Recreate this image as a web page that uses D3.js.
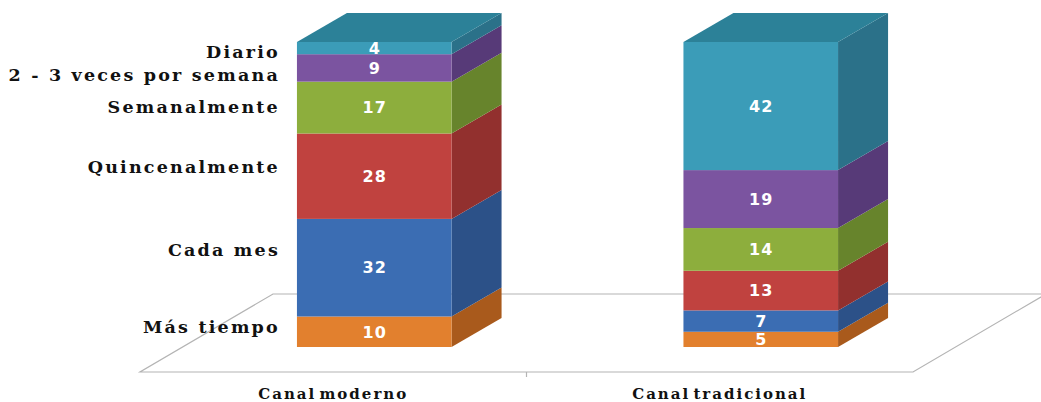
<!DOCTYPE html>
<html><head><meta charset="utf-8">
<script src="https://cdn.jsdelivr.net/npm/d3@7"></script>
<style>
html,body{margin:0;padding:0;background:#fff;}
svg{display:block;}
</style></head>
<body>
<svg id="chart" width="1041" height="402"></svg>
<script>
// ---- data ----
const categories = ["Canal moderno", "Canal tradicional"];
const seriesNames = ["Más tiempo", "Cada mes", "Quincenalmente", "Semanalmente", "2 - 3 veces por semana", "Diario"];
const masTiempo      = [10, 5];
const cadaMes        = [32, 7];
const quincenalmente = [28, 13];
const semanalmente   = [17, 14];
const dosTresVeces   = [9, 19];
const diario         = [4, 42];
const seriesValues = [masTiempo, cadaMes, quincenalmente, semanalmente, dosTresVeces, diario];

// ---- styles ----
const frontColors = ["#E2802E", "#3B6DB3", "#C0423F", "#8DAE3D", "#7B54A0", "#3B9CB8"];
const sideColors  = ["#A95A1C", "#2C5188", "#92302E", "#67842C", "#573A78", "#2B7189"];
const topColors   = ["#C26D25", "#32609E", "#A83A37", "#7A9A34", "#684889", "#2C8198"];
const labelOffsets = [-5, -18, -9, -1, 6.5, 3.5]; // nudges of left labels

const svg = d3.select("#chart");
const x = d3.scaleBand().domain(categories).range([140, 913]).paddingInner(0.6).paddingOuter(0.3);
const y = d3.scaleLinear().domain([0, 100]).range([347, 42]);

const floorFrontY = y(0) + 25;
const floorDepth = [133, -78];
const barShift = [41, -25];
const barDepth = [50, -29];

// floor
const fl = svg.append("g").attr("stroke", "#b4b4b4").attr("stroke-width", 1.2).attr("fill", "none");
const fx0 = x.range()[0], fx1 = x.range()[1];
fl.append("path").attr("d", `M${fx0},${floorFrontY} L${fx1},${floorFrontY} L${fx1+floorDepth[0]},${floorFrontY+floorDepth[1]} L${fx0+floorDepth[0]},${floorFrontY+floorDepth[1]} Z`);
fl.append("line").attr("x1", fx0 + x.step()).attr("x2", fx0 + x.step())
  .attr("y1", floorFrontY).attr("y2", floorFrontY + 5);

// stack
const table = categories.map((c, i) => {
  const o = {cat: c};
  seriesNames.forEach((s, j) => o[s] = seriesValues[j][i]);
  return o;
});
const stack = d3.stack().keys(seriesNames)(table);

const bars = svg.append("g");
categories.forEach((c, ci) => {
  const bx = x(c) + barShift[0];
  const bw = x.bandwidth();
  const g = bars.append("g");
  stack.forEach((layer, si) => {
    const d = layer[ci];
    const y0 = y(d[0]), y1 = y(d[1]);
    g.append("path")
      .attr("d", `M${bx+bw},${y0} L${bx+bw+barDepth[0]},${y0+barDepth[1]} L${bx+bw+barDepth[0]},${y1+barDepth[1]} L${bx+bw},${y1} Z`)
      .attr("fill", sideColors[si]);
    g.append("rect").attr("x", bx).attr("y", y1).attr("width", bw).attr("height", y0 - y1)
      .attr("fill", frontColors[si]);
    if (si === stack.length - 1) {
      g.append("path")
        .attr("d", `M${bx},${y1} L${bx+barDepth[0]},${y1+barDepth[1]} L${bx+bw+barDepth[0]},${y1+barDepth[1]} L${bx+bw},${y1} Z`)
        .attr("fill", topColors[si]);
    }
    g.append("text")
      .attr("x", bx + bw/2 + 0.5).attr("y", (y0 + y1)/2)
      .attr("dy", "0.36em")
      .attr("text-anchor", "middle")
      .attr("fill", "#fff")
      .attr("font-family", "DejaVu Sans, Verdana, sans-serif")
      .attr("font-weight", "bold")
      .attr("font-size", 16)
      .attr("letter-spacing", 1)
      .text(seriesValues[si][ci]);
  });
});

// series labels at left of first bar
const first = categories[0];
stack.forEach((layer, si) => {
  const d = layer[0];
  svg.append("text")
    .attr("x", x(first) + barShift[0] - 17)
    .attr("y", (y(d[0]) + y(d[1]))/2 + labelOffsets[si])
    .attr("dy", "0.35em")
    .attr("text-anchor", "end")
    .attr("font-family", "DejaVu Serif, serif")
    .attr("font-weight", "bold")
    .attr("font-size", 17.5)
    .attr("letter-spacing", 2.2)
    .attr("fill", "#111")
    .text(seriesNames[si]);
});

// category labels
categories.forEach(c => {
  svg.append("text")
    .attr("x", x(c) + x.bandwidth()/2)
    .attr("y", floorFrontY + 22)
    .attr("dy", "0.35em")
    .attr("text-anchor", "middle")
    .attr("font-family", "DejaVu Serif, serif")
    .attr("font-weight", "bold")
    .attr("font-size", 15)
    .attr("letter-spacing", 2)
    .attr("word-spacing", -4)
    .attr("fill", "#111")
    .text(c);
});
</script>
</body></html>
